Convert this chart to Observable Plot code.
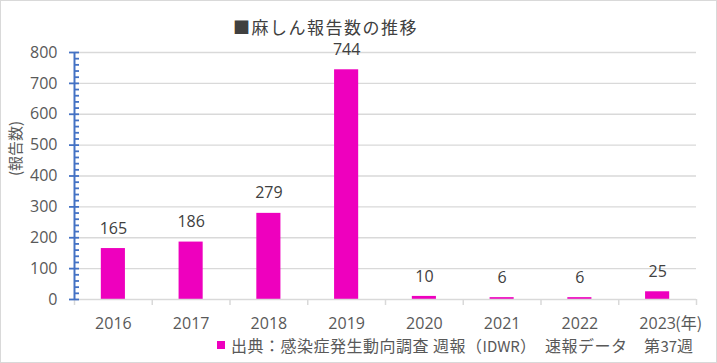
<!DOCTYPE html>
<html>
<head>
<meta charset="utf-8">
<script src="https://cdn.jsdelivr.net/npm/d3@7"></script>
<script src="https://cdn.jsdelivr.net/npm/@observablehq/plot@0.6"></script>
<style>
  html, body { margin: 0; padding: 0; background: #fff; }
  #wrap { position: relative; width: 717px; height: 363px; overflow: hidden; background: #fff;
          font-family: "Open Sans", "Noto Sans CJK JP", sans-serif; }
  #border { position: absolute; left: 0; top: 0; width: 717px; height: 363px; box-sizing: border-box;
            border: 1px solid #d9d9d9; pointer-events: none; }
  #chart { position: absolute; left: 0; top: 0; }
  #title { position: absolute; left: 233px; top: 14px; font-size: 17px; letter-spacing: 1.5px;
           color: #404040; font-family: "Noto Sans CJK JP", sans-serif; line-height: 26px; white-space: nowrap; }
  #legend { position: absolute; left: 217px; top: 333px; height: 24px; display: flex; align-items: center;
            white-space: nowrap; }
  #legend .sw { width: 8px; height: 8px; background: #EE00BE; margin-right: 6px; }
  #legend .tx { font-size: 16px; letter-spacing: 0.5px; color: #595959; font-family: "Noto Sans CJK JP", sans-serif; }
  #legend .lat { font-size: 15px; letter-spacing: 0; }
</style>
</head>
<body>
<div id="wrap">
  <div id="chart"></div>
  <div id="title"></div>
  <div id="legend"><div class="sw"></div><div class="tx"></div></div>
  <div id="border"></div>
</div>
<script>
// ---- data ----
const titleText = "■麻しん報告数の推移";
const years = [2016, 2017, 2018, 2019, 2020, 2021, 2022, 2023];
const cases = [165, 186, 279, 744, 10, 6, 6, 25];
const yTicks = [0, 100, 200, 300, 400, 500, 600, 700, 800];
const yLabel = "(報告数)";
const yearUnit = "(年)";
const legendText = "出典：感染症発生動向調査\u00a0週報（IDWR）　速報データ　第37週";

// ---- build ----
const data = years.map((year, i) => ({year, cases: cases[i]}));
const xDomain = [years[0] - 0.5, years[years.length - 1] + 0.5];
const boundaries = [...years.map(y => y - 0.5), years[years.length - 1] + 0.5];
const minorTicks = d3.range(0, 801, 20);
const barHalf = 0.155;
const barColor = "#EE00BE";
const axisBlue = "#4472C4";

document.getElementById("title").textContent = titleText;
// legend text: Latin runs get a separate style, CJK stays as is
const tx = document.querySelector("#legend .tx");
legendText.split(/([A-Za-z0-9]+)/).forEach(part => {
  if (!part) return;
  if (/^[A-Za-z0-9]+$/.test(part)) {
    const s = document.createElement("span");
    s.className = "lat";
    s.textContent = part;
    tx.appendChild(s);
  } else {
    tx.appendChild(document.createTextNode(part));
  }
});

const plot = Plot.plot({
  width: 717,
  height: 363,
  marginTop: 52,
  marginBottom: 64,
  marginLeft: 74,
  marginRight: 21,
  style: {fontFamily: "'Open Sans','Noto Sans CJK JP',sans-serif", background: "transparent"},
  x: {domain: xDomain, axis: null},
  y: {domain: [0, 800], axis: null},
  marks: [
    Plot.gridY(yTicks.slice(1), {stroke: "#d9d9d9", strokeOpacity: 1, strokeWidth: 1.3}),
    Plot.rectY(data, {x1: d => d.year - barHalf, x2: d => d.year + barHalf, y: "cases", fill: barColor}),
    Plot.ruleY([0], {stroke: "#d9d9d9", strokeWidth: 1.5}),
    Plot.axisX({ticks: boundaries, tickSize: 6, tickFormat: () => "", stroke: "#d9d9d9", strokeWidth: 1.5, label: null}),
    Plot.axisX({ticks: years, tickSize: 0, tickPadding: 18, tickFormat: d => String(d), fontSize: 16, fill: "#595959", label: null}),
    Plot.text([years[years.length - 1]], {x: d => d, y: 0, text: () => yearUnit, dx: 31, dy: 24, fontSize: 16, fill: "#595959", fontFamily: "'Noto Sans CJK JP',sans-serif"}),
    Plot.text(data, {x: "year", y: "cases", text: d => String(d.cases), dy: -20, fontSize: 16, fill: "#404040"}),
    Plot.ruleX([xDomain[0]], {y1: 0, y2: 800, stroke: axisBlue, strokeWidth: 2}),
    Plot.axisY({ticks: yTicks, tickSize: 5, tickPadding: 12, fontSize: 16, fill: "#595959", stroke: axisBlue, strokeWidth: 1.8, label: null}),
    Plot.axisY({ticks: minorTicks, tickSize: -5, tickFormat: () => "", stroke: axisBlue, strokeWidth: 1.8, label: null}),
    Plot.text([yLabel], {frameAnchor: "left", rotate: -90, dx: -58, fontSize: 15, fill: "#595959", fontFamily: "'Noto Sans CJK JP',sans-serif"})
  ]
});
document.getElementById("chart").appendChild(plot);
</script>
</body>
</html>
